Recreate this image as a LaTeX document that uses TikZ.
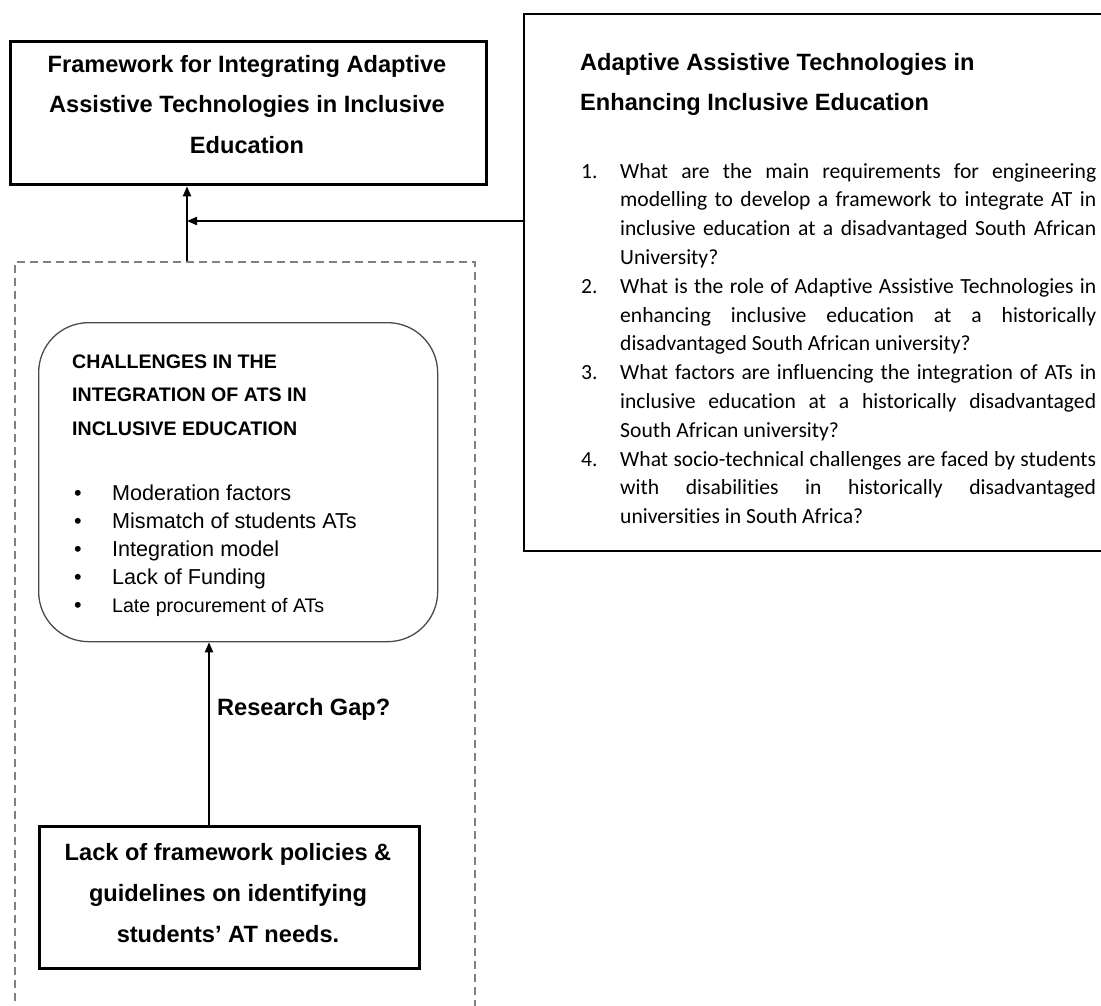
\documentclass[tikz,border=0pt]{standalone}
\usepackage{fontspec}
\setmainfont{Liberation Sans}
\newfontfamily\listfont{Carlito}[Ligatures=NoCommon]
\usetikzlibrary{arrows.meta}

% vertical stack of lines; the first line's baseline is the box baseline
\newcommand\linestack[2]{\vtop{\baselineskip=#1\lineskiplimit=-100pt\relax #2}}
\newcommand\ctrline[2]{\hbox to #1{\hfil#2\hfil}}
% numbered, justified question lines
\newcommand\qfirst[2]{\hbox{\hbox to 39pt{#1\hfil}\hbox to 476pt{#2}}}
\newcommand\qjust[1]{\hbox{\hskip39pt\hbox to 476pt{#1}}}
\newcommand\qlast[1]{\hbox{\hskip39pt #1}}
\newcommand\bulletline[1]{\hbox{\hbox to 39pt{\hskip1pt\textbullet\hfil}#1}}

\definecolor{dashgray}{HTML}{808080}
\definecolor{roundgray}{HTML}{4A4A4A}

\tikzset{
  heavybox/.style={draw=black, line width=3.3pt, inner sep=0pt, anchor=north west},
  thinbox/.style={draw=black, line width=2.2pt, inner sep=0pt, anchor=north west},
  groupbox/.style={draw=dashgray, line width=1.6pt, dash pattern=on 8pt off 5pt, inner sep=0pt, anchor=north west},
  roundbox/.style={draw=roundgray, line width=1.3pt, rounded corners=50pt, inner sep=0pt, anchor=north west},
  txt/.style={inner sep=0pt, anchor=base west},
  ctxt/.style={inner sep=0pt, anchor=base},
  flow/.style={draw=black, line width=2pt, -{Triangle[length=10pt,width=8pt]}},
}

\begin{document}
\begin{tikzpicture}[x=1pt,y=-1pt]
\useasboundingbox (0,0) rectangle (1101,1005);

% boxes
\node[heavybox, minimum width=476pt, minimum height=143pt] (goal) at (9,40) {};
\node[thinbox, minimum width=590pt, minimum height=537pt] (rq) at (523,13) {};
\node[groupbox, minimum width=460pt, minimum height=780pt] (group) at (14,261) {};
\node[roundbox, minimum width=399pt, minimum height=319pt] (chal) at (38,322) {};
\node[heavybox, minimum width=380pt, minimum height=142pt] (need) at (38,825) {};

% junction and arrow columns
\coordinate (join) at (187,221);
\coordinate (gapcol) at (209,700);

% connectors
\draw[flow] (group.north -| join) -- (goal.south -| join);
\draw[flow] (rq.west |- join) -- (join);
\draw[flow] (need.north -| gapcol) -- (chal.south -| gapcol);

% texts
\node[ctxt] (goaltext) at (247,72) {\fontsize{23.6pt}{40.5pt}\selectfont\bfseries
  \linestack{40.5pt}{%
    \ctrline{476pt}{Framework for Integrating Adaptive}%
    \ctrline{476pt}{Assistive Technologies in Inclusive}%
    \ctrline{476pt}{Education}}};

\node[txt] (rqhead) at (580,70) {\fontsize{23.6pt}{40pt}\selectfont\bfseries
  \linestack{40pt}{%
    \hbox{Adaptive Assistive Technologies in}%
    \hbox{Enhancing Inclusive Education}}};

\node[txt] (rqlist) at (581,178) {\listfont\fontsize{21.6pt}{28.8pt}\selectfont
  \linestack{28.8pt}{%
    \qfirst{1.}{What are the main requirements for engineering}%
    \qjust{modelling to develop a framework to integrate AT in}%
    \qjust{inclusive education at a disadvantaged South African}%
    \qlast{University?}%
    \qfirst{2.}{What is the role of Adaptive Assistive Technologies in}%
    \qjust{enhancing inclusive education at a historically}%
    \qlast{disadvantaged South African university?}%
    \qfirst{3.}{What factors are influencing the integration of ATs in}%
    \qjust{inclusive education at a historically disadvantaged}%
    \qlast{South African university?}%
    \qfirst{4.}{What socio-technical challenges are faced by students}%
    \qjust{with disabilities in historically disadvantaged}%
    \qlast{universities in South Africa?}}};

\node[txt] (chalhead) at (72,368) {\fontsize{19.6pt}{33.5pt}\selectfont\bfseries
  \linestack{33.5pt}{%
    \hbox{CHALLENGES IN THE}%
    \hbox{INTEGRATION OF ATS IN}%
    \hbox{INCLUSIVE EDUCATION}}};

\node[txt] (chalitems) at (73,500) {\fontsize{21.6pt}{28pt}\selectfont
  \linestack{28pt}{%
    \bulletline{Moderation factors}%
    \bulletline{Mismatch of students ATs}%
    \bulletline{Integration model}%
    \bulletline{Lack of Funding}%
    \bulletline{\fontsize{19.6pt}{28pt}\selectfont Late procurement of ATs}}};

\node[txt] (gaplabel) at (217,715) {\fontsize{23.6pt}{28pt}\selectfont\bfseries Research Gap?};

\node[ctxt] (needtext) at (228,860) {\fontsize{23.6pt}{41pt}\selectfont\bfseries
  \linestack{41pt}{%
    \ctrline{380pt}{Lack of framework policies \&}%
    \ctrline{380pt}{guidelines on identifying}%
    \ctrline{380pt}{students’ AT needs.}}};

\end{tikzpicture}
\end{document}
